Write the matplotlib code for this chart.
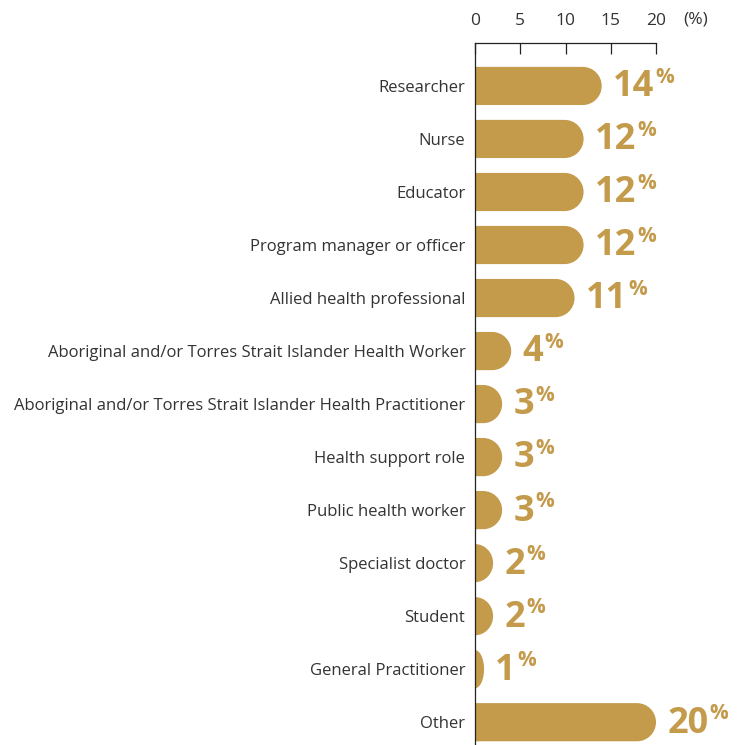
import matplotlib.pyplot as plt
from matplotlib.path import Path
from matplotlib.patches import PathPatch

plt.rcParams['font.family'] = ['Open Sans', 'DejaVu Sans']

# data
roles = ["Researcher", "Nurse", "Educator", "Program manager or officer",
         "Allied health professional",
         "Aboriginal and/or Torres Strait Islander Health Worker",
         "Aboriginal and/or Torres Strait Islander Health Practitioner",
         "Health support role", "Public health worker", "Specialist doctor",
         "Student", "General Practitioner", "Other"]
values = [14, 12, 12, 12, 11, 4, 3, 3, 3, 2, 2, 1, 20]
ticks = [0, 5, 10, 15, 20]

gold = "#C49A4B"
txt = "#333333"

W, H = 743, 745
fig = plt.figure(figsize=(W / 100, H / 100), dpi=100)
ax = fig.add_axes([475 / W, 0, (656 - 475) / W, 1 - 43 / H])
ax.set_xlim(0, 20)
ax.set_ylim(len(roles) - 1 + 0.43, -0.81)

bar_h = 0.72
r = 2.1  # cap radius in x units
k = 0.5523


def rounded_bar(v, y):
    rx = min(r, v)
    x0 = max(v - rx, 0)
    b, t = y + bar_h / 2, y - bar_h / 2
    hh = bar_h / 2
    verts = [(0, b), (x0, b),
             (x0 + k * rx, b), (x0 + rx, y + k * hh), (x0 + rx, y),
             (x0 + rx, y - k * hh), (x0 + k * rx, t), (x0, t),
             (0, t), (0, b)]
    codes = [Path.MOVETO, Path.LINETO,
             Path.CURVE4, Path.CURVE4, Path.CURVE4,
             Path.CURVE4, Path.CURVE4, Path.CURVE4,
             Path.LINETO, Path.CLOSEPOLY]
    return PathPatch(Path(verts, codes), facecolor=gold, edgecolor="none")


for i, v in enumerate(values):
    ax.add_patch(rounded_bar(v, i))
    t = ax.annotate(str(v), xy=(v, i), xytext=(8, -1), textcoords="offset points",
                    ha="left", va="center", fontsize=26, fontweight="bold",
                    color=gold, annotation_clip=False)
    ax.annotate("%", xy=(1, 1), xycoords=t, xytext=(1, 2), textcoords="offset points",
                ha="left", va="top", fontsize=15, fontweight="bold", color=gold)

ax.set_yticks(range(len(roles)))
ax.set_yticklabels(roles, fontsize=12, color=txt)
ax.tick_params(axis="y", length=0, pad=7)

ax.xaxis.tick_top()
ax.set_xticks(ticks)
ax.set_xticklabels([str(v) for v in ticks], fontsize=12.5, color=txt)
ax.tick_params(axis="x", direction="in", length=8, width=0.9, color="#222222", pad=10)
ax.annotate("(%)", xy=(696 / W, 1 - 19 / H), xycoords="figure fraction",
            ha="center", va="center", fontsize=12.5, color=txt)

for s in ["right", "bottom"]:
    ax.spines[s].set_visible(False)
ax.spines["left"].set_color("#222222")
ax.spines["top"].set_color("#222222")
ax.spines["left"].set_linewidth(0.9)
ax.spines["top"].set_linewidth(0.9)

fig.savefig("out.png", dpi=100)
